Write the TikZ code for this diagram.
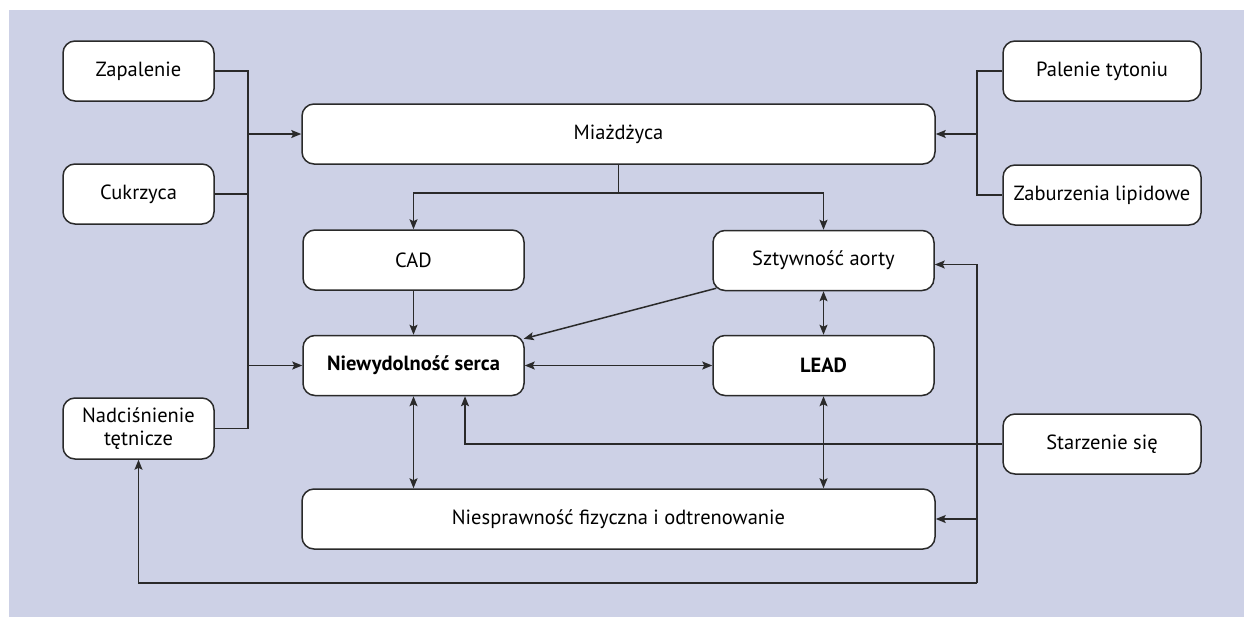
\documentclass[tikz,border=0pt]{standalone}
\usepackage{fontspec}
\setmainfont{PT Sans}
\usetikzlibrary{arrows.meta,calc}
\definecolor{bgc}{HTML}{CDD1E6}
\definecolor{edge}{HTML}{2A2A2A}
\tikzset{
  box/.style={draw=edge, line width=1.5pt, fill=white, rounded corners=12pt, align=center, inner sep=0pt, font=\fontsize{20.5}{23}\selectfont},
  smallbox/.style={box, minimum width=151pt, minimum height=60pt},
  sidebox/.style={box, minimum width=198pt, minimum height=60pt},
  midbox/.style={box, minimum width=221pt, minimum height=60pt},
  widebox/.style={box, minimum width=633pt, minimum height=60pt},
  conn/.style={draw=edge, line width=1.5pt},
  arr/.style={conn, -{Stealth[length=10pt,width=8pt,inset=2pt]}},
  darr/.style={conn, {Stealth[length=10pt,width=8pt,inset=2pt]}-{Stealth[length=10pt,width=8pt,inset=2pt]}}
}
\begin{document}
\begin{tikzpicture}[x=1pt,y=-1pt]
\useasboundingbox (0,0) rectangle (1244,616);
\fill[white] (-5,-5) rectangle (1250,622);
\fill[bgc] (9,10) rectangle (1250,622);

\node[smallbox] (zap) at (138.5,71) {Zapalenie};
\node[smallbox] (cuk) at (138.5,194) {Cukrzyca};
\node[smallbox, minimum height=61pt] (nad) at (138.5,428.5) {Nadciśnienie\\tętnicze};
\node[widebox] (mia) at (618.5,134) {Miażdżyca};
\node[sidebox] (pal) at (1102,71) {Palenie tytoniu};
\node[sidebox] (zab) at (1102,195) {Zaburzenia lipidowe};
\node[midbox] (cad) at (413.5,260) {CAD};
\node[midbox] (szt) at (823.5,260.5) {Sztywność aorty};
\node[midbox] (nie) at (413.5,365.5) {\bfseries Niewydolność serca};
\node[midbox] (lead) at (823.5,365.5) {\bfseries LEAD};
\node[widebox] (nies) at (618.5,519) {Niesprawność fizyczna i odtrenowanie};
\node[sidebox] (sta) at (1102,444) {Starzenie się};

\coordinate (lv) at (248,0);
\coordinate (rv) at (977,0);
\coordinate (hb) at (0,193);
\coordinate (sx) at (465,0);
\coordinate (bot) at (977,583);

% left inputs
\draw[conn] (zap.east) -- (zap.east -| lv) -- (nad.east -| lv) -- (nad.east);
\draw[conn] (cuk.east) -- (cuk.east -| lv);
\draw[arr] (mia.west -| lv) -- (mia.west);
\draw[arr] (nie.west -| lv) -- (nie.west);

% right inputs
\draw[conn] (pal.west) -- (pal.west -| rv) -- (zab.west -| rv) -- (zab.west);
\draw[arr] (mia.east -| rv) -- (mia.east);

% from Miazdzyca
\draw[conn] (mia.south) -- (mia.south |- hb);
\draw[arr] (mia.south |- hb) -| (cad.north);
\draw[arr] (mia.south |- hb) -| (szt.north);

% middle
\draw[arr] (cad.south) -- (nie.north);
\draw[arr] ($(szt.south west)+(4,-3)$) -- ($(nie.north east)+(-1,4)$);
\draw[darr] (nie.east) -- (lead.west);
\draw[darr] (szt.south) -- (lead.north);
\draw[darr] (nie.south) -- (nie.south |- nies.north);
\draw[darr] (lead.south) -- (lead.south |- nies.north);

% ageing
\draw[arr] (sta.west) -| (sx |- nie.south);
\draw[arr] (bot) |- ([yshift=-4pt]szt.east);
\draw[arr] (bot) -| (nad.south);
\draw[arr] (nies.east -| bot) -- (nies.east);
\end{tikzpicture}
\end{document}
